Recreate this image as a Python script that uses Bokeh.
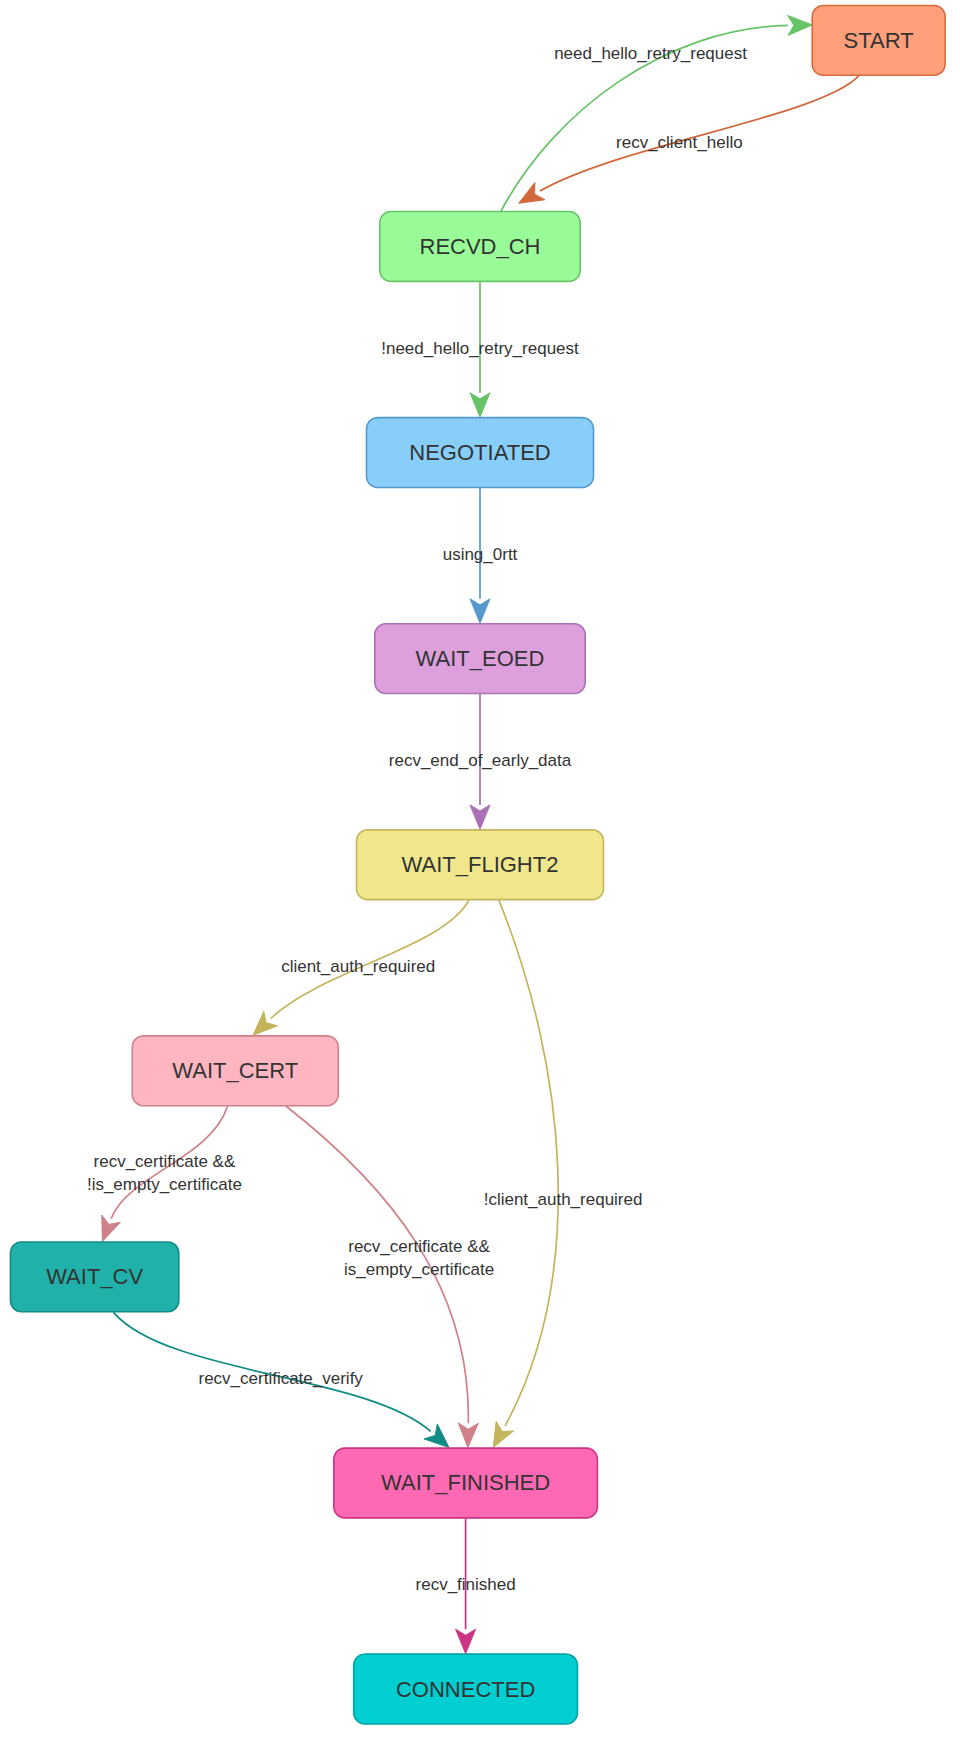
import numpy as np
from bokeh.plotting import figure
from bokeh.models import Range1d
from bokeh.core.properties import value
from bokeh.embed import file_html
from bokeh.resources import INLINE

# states: name, center x, center y, width, fill, stroke
states = ["START", "RECVD_CH", "NEGOTIATED", "WAIT_EOED", "WAIT_FLIGHT2",
          "WAIT_CERT", "WAIT_CV", "WAIT_FINISHED", "CONNECTED"]
state_x = [793, 433, 433, 433, 433, 212, 85, 420, 420]
state_y = [36, 222, 408, 594, 780, 966, 1152, 1338, 1524]
state_w = [120, 181, 205, 190, 223, 186, 152, 238, 202]
state_h = 63
fills = ["#FFA07A", "#98FB98", "#87CEFA", "#DDA0DD", "#F0E68C",
         "#FFB6C1", "#20B2AA", "#FF69B4", "#00CED1"]
strokes = ["#d96a3c", "#66c466", "#5599cc", "#aa70b8", "#c4b45c",
           "#d08088", "#108c84", "#cc3385", "#00a3a8"]

# transitions: start, ctrl1, ctrl2, tip, colour, label, label position
edges = [
    ((452, 190), (500, 100), (600, 25), (733, 22), "#66c466",
     "need_hello_retry_request", (587, 48)),
    ((775, 68), (740, 105), (560, 130), (468, 183), "#d2693c",
     "recv_client_hello", (613, 128)),
    ((433, 254), (433, 300), (433, 340), (433, 376), "#66c466",
     "!need_hello_retry_request", (433, 314)),
    ((433, 440), (433, 490), (433, 520), (433, 562), "#5599cc",
     "using_0rtt", (433, 500)),
    ((433, 626), (433, 670), (433, 710), (433, 748), "#aa70b8",
     "recv_end_of_early_data", (433, 686)),
    ((423, 812), (400, 855), (290, 875), (228, 934), "#c4b45c",
     "client_auth_required", (323, 872)),
    ((450, 812), (510, 960), (530, 1150), (445, 1306), "#c4b45c",
     "!client_auth_required", (508, 1082)),
    ((205, 998), (190, 1045), (115, 1060), (92, 1120), "#d08088",
     "recv_certificate &&\n!is_empty_certificate", (148, 1058)),
    ((258, 998), (350, 1070), (425, 1160), (422, 1306), "#d08088",
     "recv_certificate &&\nis_empty_certificate", (378, 1135)),
    ((102, 1184), (150, 1240), (330, 1240), (405, 1306), "#108c84",
     "recv_certificate_verify", (253, 1244)),
    ((420, 1370), (420, 1420), (420, 1450), (420, 1492), "#cc3385",
     "recv_finished", (420, 1430)),
]

W, H = 866, 1565
S = 960 / 866
p = figure(width=int(W * S), height=int(H * S), output_backend="svg",
           toolbar_location=None, x_range=Range1d(0, W), y_range=Range1d(H, 0),
           min_border=0)
p.axis.visible = False
p.grid.visible = False
p.outline_line_color = None

def rounded(cx, cy, w, h, r=10):
    xs, ys = [], []
    corners = [(cx + w/2 - r, cy - h/2 + r, -90), (cx + w/2 - r, cy + h/2 - r, 0),
               (cx - w/2 + r, cy + h/2 - r, 90), (cx - w/2 + r, cy - h/2 + r, 180)]
    for ox, oy, a0 in corners:
        t = np.radians(np.linspace(a0, a0 + 90, 8))
        xs += list(ox + r*np.cos(t))
        ys += list(oy + r*np.sin(t))
    return xs, ys

L, HW = 22, 9
for (s, c1, c2, tip, col, lab, lp) in edges:
    d = np.array(tip, float) - np.array(c2, float)
    d /= np.linalg.norm(d)
    base = np.array(tip) - d*L
    p.bezier(x0=[s[0]], y0=[s[1]], x1=[base[0]], y1=[base[1]],
             cx0=[c1[0]], cy0=[c1[1]], cx1=[c2[0]], cy1=[c2[1]],
             line_color=col, line_width=1.7)
    n = np.array([-d[1], d[0]])
    a = base + n*HW
    b = base - n*HW
    m = np.array(tip) - d*L*0.75
    p.patch([tip[0], a[0], m[0], b[0]], [tip[1], a[1], m[1], b[1]],
            fill_color=col, line_color=col)
    p.text(x=[lp[0]], y=[lp[1]], text=[lab], text_align="center",
           text_baseline="middle", text_font_size="17px", text_color="#333333",
           text_font=value("Liberation Sans"), text_line_height=1.2)

for i, name in enumerate(states):
    xs, ys = rounded(state_x[i], state_y[i], state_w[i], state_h)
    p.patch(xs, ys, fill_color=fills[i], line_color=strokes[i], line_width=1.6)
p.text(x=state_x, y=state_y, text=states, text_align="center",
       text_baseline="middle", text_font_size="22px", text_color="#333333",
       text_font=value("Liberation Sans"))

open("out.html", "w").write(file_html(p, INLINE))
